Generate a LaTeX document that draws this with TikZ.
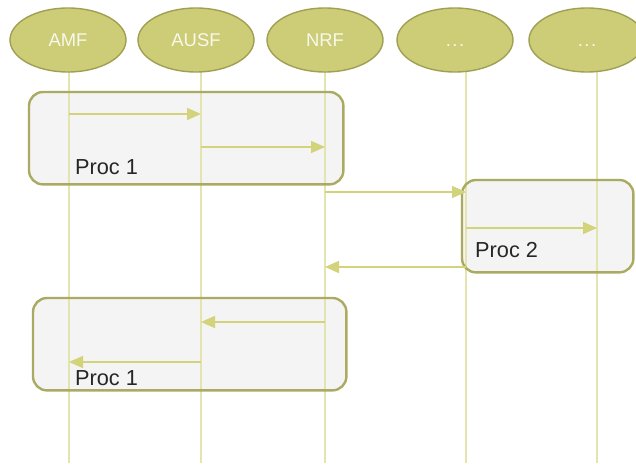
\documentclass[tikz,border=0pt]{standalone}
\usepackage{fontspec}
\setmainfont{Liberation Sans}
\usetikzlibrary{arrows.meta,shapes.geometric}
\definecolor{nfFill}{HTML}{CDCD77}
\definecolor{nfEdge}{HTML}{A0A055}
\definecolor{lifeC}{HTML}{E4E4AE}
\definecolor{msgC}{HTML}{D3D37C}
\definecolor{procFill}{HTML}{F4F4F4}
\definecolor{procEdge}{HTML}{AAAA62}
\definecolor{nfText}{HTML}{F8F8EC}
\tikzset{
  nf/.style={ellipse, draw=nfEdge, line width=1.4bp, fill=nfFill,
    minimum width=116bp, minimum height=64bp, inner sep=0pt,
    text height=13bp, text depth=0pt,
    text=nfText, font=\fontsize{18.5}{20}\selectfont},
  lifeline/.style={draw=lifeC, line width=1.6bp},
  msg/.style={draw=msgC, line width=1.6bp,
    -{Triangle[length=14bp,width=12bp]}},
  procbox/.style={rectangle, rounded corners=14bp, fill=procFill,
    inner sep=0pt, anchor=north west},
  procline/.style={draw=procEdge, line width=2.4bp, rounded corners=14bp},
  proclabel/.style={anchor=base west, inner sep=0pt,
    font=\fontsize{21.8}{24}\selectfont, text=black!85}
}
\begin{document}
\begin{tikzpicture}[x=1bp,y=-1bp]
  \useasboundingbox (0,0) rectangle (636,468);
  \begin{scope}
  \clip (0,0) rectangle (636,468);

  % procedure boxes (fill only; outlines are drawn over the lifelines)
  \node[procbox, minimum width=314bp, minimum height=92bp] (p1) at (29,92) {};
  \node[procbox, minimum width=171bp, minimum height=92bp] (p2) at (462,180) {};
  \node[procbox, minimum width=313bp, minimum height=92bp] (p3) at (33,298) {};

  % lifelines
  \foreach \n/\x in {amf/69, ausf/201, nrf/325, nfa/466, nfb/597}{
    \coordinate (\n-top) at (\x,70);
    \coordinate (\n-bot) at (\x,463);
    \draw[lifeline] (\n-top) -- (\n-bot);
  }

  % box outlines
  \foreach \p in {p1,p2,p3}
    \draw[procline] (\p.north west) rectangle (\p.south east);

  % message end points on the lifelines
  \coordinate (m1a) at (69,114);  \coordinate (m1b) at (201,114);
  \coordinate (m2a) at (201,147); \coordinate (m2b) at (325,147);
  \coordinate (m3a) at (325,192); \coordinate (m3b) at (466,192);
  \coordinate (m4a) at (466,228); \coordinate (m4b) at (597,228);
  \coordinate (m5a) at (466,267); \coordinate (m5b) at (325,267);
  \coordinate (m6a) at (325,322); \coordinate (m6b) at (201,322);
  \coordinate (m7a) at (201,362); \coordinate (m7b) at (69,362);

  \foreach \m in {m1,m2,m3,m4,m5,m6,m7}
    \draw[msg] (\m a) -- (\m b);

  % procedure labels
  \node[proclabel] (t1) at (75,175) {Proc 1};
  \node[proclabel] (t2) at (475,258) {Proc 2};
  \node[proclabel] (t3) at (75,385) {Proc 1};

  % network functions
  \node[nf] (amf)  at (68,40)  {AMF};
  \node[nf] (ausf) at (196,40) {AUSF};
  \node[nf] (nrf)  at (325,40) {NRF};
  \node[nf] (nfa)  at (455,40) {.\kern1.5bp.\kern1.5bp.};
  \node[nf] (nfb)  at (587,40) {.\kern1.5bp.\kern1.5bp.};
  \end{scope}
\end{tikzpicture}
\end{document}
